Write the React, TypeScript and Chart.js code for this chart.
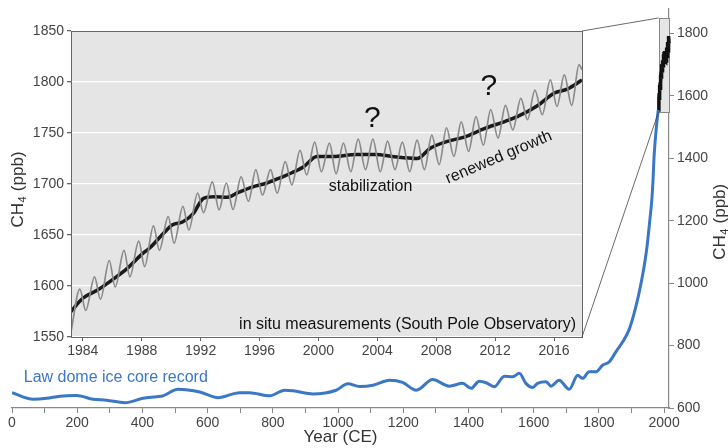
import { useEffect, useRef } from 'react';
import { Chart, registerables } from 'chart.js';
Chart.register(...registerables);

const FONT = '"Liberation Sans", Arial, Helvetica, sans-serif';
const BLUE = '#3a77c4';
const PANEL = '#e5e5e5';

// Law Dome ice core record (year CE, ppb)
const lawYears = [0, 65, 106, 147, 198, 249, 290, 346, 402, 443, 463, 509, 576, 632, 698, 729, 790, 836, 862, 923, 994, 1030, 1066, 1107, 1158, 1198, 1240, 1290, 1341, 1382, 1408, 1433, 1454, 1479, 1510, 1535, 1556, 1576, 1597, 1612, 1638, 1653, 1678, 1709, 1735, 1750, 1770, 1791, 1811, 1832, 1852, 1873, 1893, 1913, 1929, 1946, 1957, 1962, 1966, 1969, 1976, 1982];
const lawValues = [649, 628, 631, 638, 640, 628, 625, 617, 631, 636, 639, 660, 651, 633, 649, 649, 639, 657, 655, 645, 657, 678, 669, 673, 689, 682, 657, 691, 670, 679, 663, 686, 681, 668, 702, 700, 711, 679, 666, 679, 684, 670, 689, 660, 705, 695, 716, 716, 737, 748, 780, 812, 852, 923, 998, 1104, 1210, 1263, 1330, 1402, 1497, 1555];

// South Pole in situ: deseasonalised trend
const trendYears = [1983.2, 1984.0, 1985.0, 1986.0, 1987.0, 1988.0, 1988.6, 1989.5, 1990.1, 1990.8, 1991.5, 1992.2, 1992.9, 1993.8, 1994.6, 1995.5, 1996.5, 1997.4, 1998.2, 1999.0, 1999.9, 2001.0, 2002.6, 2003.9, 2005.0, 2006.7, 2007.6, 2008.7, 2009.9, 2011.3, 2012.6, 2013.5, 2014.9, 2016.0, 2016.9, 2017.9];
const trendValues = [1575, 1588, 1596, 1606, 1617, 1631, 1638, 1652, 1660, 1663, 1671, 1686, 1687.5, 1687, 1692, 1697, 1701, 1706, 1711, 1717, 1727, 1727, 1729, 1729, 1727, 1725, 1735, 1741.5, 1746, 1754.5, 1761, 1766, 1777, 1789, 1793, 1802];

// South Pole in situ: seasonal record (seasonal maxima / minima)
const seasonYears = [1983.2, 1983.8, 1984.2, 1984.8, 1985.2, 1985.8, 1986.2, 1986.8, 1987.2, 1987.8, 1988.2, 1988.8, 1989.2, 1989.8, 1990.2, 1990.8, 1991.2, 1991.8, 1992.2, 1992.8, 1993.25, 1993.75, 1994.2, 1994.75, 1995.25, 1995.75, 1996.2, 1996.75, 1997.2, 1997.75, 1998.2, 1998.75, 1999.2, 1999.75, 2000.2, 2000.75, 2001.2, 2001.7, 2002.2, 2002.7, 2003.2, 2003.7, 2004.2, 2004.7, 2005.2, 2005.7, 2006.2, 2006.7, 2007.2, 2007.7, 2008.2, 2008.7, 2009.2, 2009.7, 2010.2, 2010.7, 2011.2, 2011.7, 2012.2, 2012.7, 2013.2, 2013.75, 2014.2, 2014.7, 2015.2, 2015.75, 2016.2, 2016.7, 2017.2, 2017.7, 2017.9];
const seasonValues = [1555, 1597, 1576, 1609, 1587, 1625, 1599, 1635, 1609, 1644, 1619, 1659, 1635, 1668, 1642, 1678, 1655, 1691, 1672, 1702, 1674.5, 1701, 1675, 1707, 1683, 1714, 1689, 1714, 1691, 1722, 1699, 1733, 1709, 1741, 1712, 1740, 1710, 1740, 1712, 1744, 1714, 1744, 1712, 1742, 1714, 1741, 1712, 1743, 1714, 1748, 1719, 1755, 1727, 1761, 1732, 1766, 1738, 1773, 1745, 1777, 1753, 1784, 1763, 1792, 1768, 1802, 1776, 1807, 1777, 1817, 1812];

// Axis ranges / ticks
const mainXRange = [0, 2015];
const mainYRange = [600, 1880];
const insetXRange = [1983.2, 2017.9];
const insetYRange = [1550, 1850];

const pts = (xs: number[], ys: number[]) => xs.map((x, i) => ({ x, y: ys[i] }));

function drawCH4(ctx: CanvasRenderingContext2D, cx: number, cy: number, size: number, color: string) {
  ctx.save();
  ctx.translate(cx, cy);
  ctx.rotate(-Math.PI / 2);
  ctx.fillStyle = color;
  ctx.textBaseline = 'middle';
  ctx.textAlign = 'left';
  const big = `${size}px ${FONT}`;
  const small = `${Math.round(size * 0.62)}px ${FONT}`;
  ctx.font = big;
  const w1 = ctx.measureText('CH').width;
  const w3 = ctx.measureText(' (ppb)').width;
  ctx.font = small;
  const w2 = ctx.measureText('4').width;
  let xx = -(w1 + w2 + w3) / 2;
  ctx.font = big;
  ctx.fillText('CH', xx, 0);
  xx += w1;
  ctx.font = small;
  ctx.fillText('4', xx + 0.5, size * 0.32);
  xx += w2 + 1;
  ctx.font = big;
  ctx.fillText(' (ppb)', xx, 0);
  ctx.restore();
}

export default function App() {
  const mainRef = useRef<HTMLCanvasElement>(null);
  const insetRef = useRef<HTMLCanvasElement>(null);

  useEffect(() => {
    if (!mainRef.current || !insetRef.current) return;
    let mainChart: any = null;

    const mainPlugin = {
      id: 'mainDecor',
      beforeDatasetsDraw(chart: any) {
        const { ctx, chartArea } = chart;
        const x = chart.scales.x;
        const y = chart.scales.y;
        const l = Math.round(x.getPixelForValue(insetXRange[0]));
        const r = Math.min(chartArea.right, x.getPixelForValue(insetXRange[1]));
        const t = Math.round(y.getPixelForValue(insetYRange[1]));
        const b = Math.round(y.getPixelForValue(insetYRange[0]));
        ctx.save();
        ctx.fillStyle = PANEL;
        ctx.fillRect(l, t, r - l, b - t);
        ctx.strokeStyle = '#888';
        ctx.lineWidth = 1;
        ctx.strokeRect(l + 0.5, t + 0.5, r - l, b - t);
        ctx.restore();
      },
      afterDatasetsDraw(chart: any) {
        const { ctx } = chart;
        const x = chart.scales.x;
        const y = chart.scales.y;
        ctx.save();
        ctx.fillStyle = BLUE;
        ctx.font = `16px ${FONT}`;
        ctx.textAlign = 'left';
        ctx.textBaseline = 'middle';
        ctx.fillText('Law dome ice core record', x.getPixelForValue(36), y.getPixelForValue(696));
        ctx.restore();
      },
      afterDraw(chart: any) {
        const { ctx, chartArea } = chart;
        drawCH4(ctx, 720, (chartArea.top + chartArea.bottom) / 2 + 14, 17, '#333');
      },
    };

    mainChart = new Chart(mainRef.current, {
      type: 'line',
      data: {
        datasets: [
          {
            data: pts(lawYears, lawValues),
            borderColor: BLUE,
            borderWidth: 3,
            pointRadius: 0,
            cubicInterpolationMode: 'monotone',
          },
          {
            data: pts(seasonYears, seasonValues),
            borderColor: '#111',
            borderWidth: 3.5,
            pointRadius: 0,
            clip: false as any,
          },
        ],
      },
      options: {
        animation: false,
        responsive: false,
        maintainAspectRatio: false,
        layout: { padding: { left: 12, top: 6, right: 0, bottom: 0 } },
        plugins: { legend: { display: false }, tooltip: { enabled: false } },
        scales: {
          x: {
            type: 'linear',
            position: 'bottom',
            min: mainXRange[0],
            max: mainXRange[1],
            grid: { drawOnChartArea: false, drawTicks: true, tickLength: 5, color: '#888', tickColor: '#888' },
            border: { color: '#888', width: 1.2 },
            ticks: {
              stepSize: 100,
              includeBounds: false,
              autoSkip: false,
              maxRotation: 0,
              color: '#444',
              font: { family: FONT, size: 14 },
              padding: 2,
              callback: (v: any) => (Number(v) % 200 === 0 ? String(v) : ''),
            },
            title: {
              display: true,
              text: 'Year (CE)',
              color: '#333',
              font: { family: FONT, size: 17 },
              padding: { top: 0, bottom: 0 },
            },
            afterFit: (s: any) => {
              s.height = 40;
            },
          } as any,
          y: {
            type: 'linear',
            position: 'right',
            min: mainYRange[0],
            max: mainYRange[1],
            grid: { drawOnChartArea: false, drawTicks: true, tickLength: 5, color: '#888', tickColor: '#888' },
            border: { color: '#888', width: 1.2 },
            ticks: {
              stepSize: 200,
              includeBounds: false,
              color: '#444',
              padding: 3,
              font: { family: FONT, size: 14, lineHeight: 0.8 },
              callback: (v: any) => String(v),
            },
            afterFit: (s: any) => {
              s.width = 59;
            },
          } as any,
        },
      },
      plugins: [mainPlugin],
    });

    const insetPlugin = {
      id: 'insetDecor',
      beforeDraw(chart: any) {
        const { ctx, chartArea: a } = chart;
        ctx.save();
        ctx.fillStyle = PANEL;
        ctx.fillRect(a.left, a.top, a.right - a.left, a.bottom - a.top);
        ctx.restore();
      },
      afterDatasetsDraw(chart: any) {
        const { ctx } = chart;
        const x = chart.scales.x;
        const y = chart.scales.y;
        ctx.save();
        ctx.fillStyle = '#111';
        ctx.textAlign = 'center';
        ctx.textBaseline = 'middle';
        ctx.font = `30px ${FONT}`;
        ctx.fillText('?', x.getPixelForValue(2003.67), y.getPixelForValue(1764));
        ctx.fillText('?', x.getPixelForValue(2011.57), y.getPixelForValue(1795));
        ctx.font = `16px ${FONT}`;
        ctx.fillText('stabilization', x.getPixelForValue(2003.54), y.getPixelForValue(1697));
        ctx.save();
        ctx.translate(x.getPixelForValue(2012.25), y.getPixelForValue(1726));
        ctx.rotate((-23 * Math.PI) / 180);
        ctx.fillText('renewed growth', 0, 0);
        ctx.restore();
        ctx.textAlign = 'right';
        ctx.fillText('in situ measurements (South Pole Observatory)', x.getPixelForValue(2017.5), y.getPixelForValue(1562));
        ctx.restore();
      },
      afterDraw(chart: any) {
        const { ctx, chartArea: a } = chart;
        ctx.save();
        ctx.strokeStyle = '#666';
        ctx.lineWidth = 1;
        ctx.strokeRect(Math.round(a.left) + 0.5, Math.round(a.top) + 0.5, Math.round(a.right - a.left), Math.round(a.bottom - a.top));
        if (mainChart) {
          const mx = mainChart.scales.x;
          const my = mainChart.scales.y;
          const bx = mx.getPixelForValue(insetXRange[0]);
          ctx.strokeStyle = '#444';
          ctx.lineWidth = 0.8;
          ctx.beginPath();
          ctx.moveTo(a.right, a.top);
          ctx.lineTo(bx, my.getPixelForValue(insetYRange[1]));
          ctx.moveTo(a.right, a.bottom);
          ctx.lineTo(bx, my.getPixelForValue(insetYRange[0]));
          ctx.stroke();
        }
        ctx.restore();
        drawCH4(ctx, 18, (a.top + a.bottom) / 2 + 6, 17, '#333');
      },
    };

    const insetChart = new Chart(insetRef.current, {
      type: 'line',
      data: {
        datasets: [
          {
            data: pts(seasonYears, seasonValues),
            borderColor: '#8a8a8a',
            borderWidth: 1.7,
            pointRadius: 0,
            cubicInterpolationMode: 'monotone',
          },
          {
            data: pts(trendYears, trendValues),
            borderColor: '#1a1a1a',
            borderWidth: 3.5,
            pointRadius: 0,
            cubicInterpolationMode: 'monotone',
          },
        ],
      },
      options: {
        animation: false,
        responsive: false,
        maintainAspectRatio: false,
        layout: { padding: { left: 0, top: 31, right: 146, bottom: 81 } },
        plugins: { legend: { display: false }, tooltip: { enabled: false } },
        scales: {
          x: {
            type: 'linear',
            position: 'bottom',
            min: insetXRange[0],
            max: insetXRange[1],
            grid: { drawOnChartArea: false, drawTicks: true, tickLength: 4, tickColor: '#666' },
            border: { display: false },
            ticks: {
              stepSize: 4,
              includeBounds: false,
              autoSkip: false,
              maxRotation: 0,
              color: '#444',
              padding: 2,
              font: { family: FONT, size: 14 },
              callback: (v: any) => String(v),
            },
            afterFit: (s: any) => {
              s.height = 30;
            },
          } as any,
          y: {
            type: 'linear',
            position: 'left',
            min: insetYRange[0],
            max: insetYRange[1],
            grid: { color: '#ffffff', lineWidth: 1.3, drawTicks: true, tickLength: 4, tickColor: '#666' },
            border: { display: false },
            ticks: {
              stepSize: 50,
              color: '#444',
              padding: 3,
              font: { family: FONT, size: 14 },
              callback: (v: any) => String(v),
            },
            afterFit: (s: any) => {
              s.width = 71;
            },
          } as any,
        },
      },
      plugins: [insetPlugin],
    });

    return () => {
      insetChart.destroy();
      mainChart.destroy();
    };
  }, []);

  return (
    <div style={{ position: 'fixed', left: 0, top: 0, width: 728, height: 448, background: '#fff' }}>
      <canvas ref={mainRef} width={728} height={448} style={{ position: 'absolute', left: 0, top: 0 }} />
      <canvas ref={insetRef} width={728} height={448} style={{ position: 'absolute', left: 0, top: 0 }} />
    </div>
  );
}
